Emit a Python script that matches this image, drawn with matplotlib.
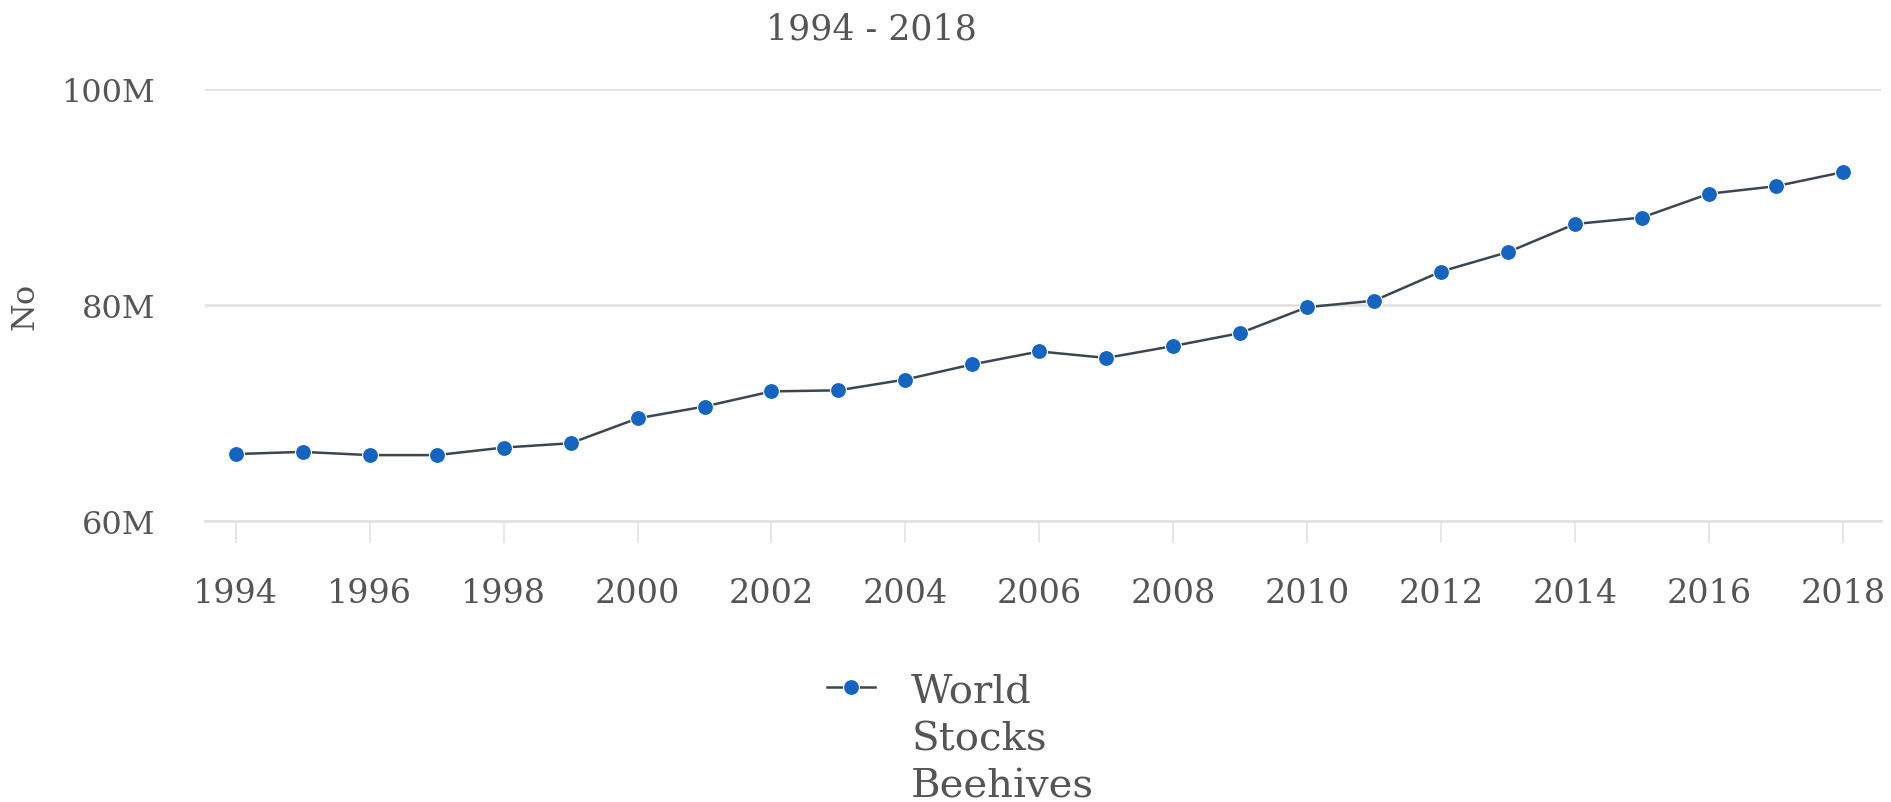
import matplotlib.pyplot as plt
from matplotlib.lines import Line2D
from matplotlib.ticker import FuncFormatter

plt.rcParams['font.family'] = ['DejaVu Serif']

years = list(range(1994, 2019))
beehives = [66.2, 66.4, 66.1, 66.1, 66.8, 67.2, 69.5, 70.6, 72.0, 72.1,
            73.1, 74.5, 75.7, 75.1, 76.2, 77.4, 79.8, 80.4, 83.1, 84.9,
            87.5, 88.1, 90.3, 91.0, 92.3]
beehives = [v * 1e6 for v in beehives]
label_lines = ["World", "Stocks", "Beehives"]
title = "1994 - 2018"

txt = "#555555"
grid = "#e2e2e2"
line_col = "#3c4650"
dot_col = "#1565c0"

fig = plt.figure(figsize=(18.91, 8.03), dpi=100)
ax = fig.add_axes([205 / 1891, 1 - 522 / 803, 1676 / 1891, 432 / 803])

ax.plot(years, beehives, color=line_col, linewidth=1.8,
        marker="o", markersize=11.5, markerfacecolor=dot_col,
        markeredgecolor="white", markeredgewidth=0.8, zorder=3)

ax.set_xlim(1993.54, 2018.57)
ax.set_ylim(60e6, 100e6)
ax.set_yticks([60e6, 80e6, 100e6])
ax.yaxis.set_major_formatter(FuncFormatter(lambda v, p: "%dM" % (v / 1e6)))
ax.set_xticks(years[::2])

ax.grid(axis="y", color=grid, linewidth=2)
ax.set_axisbelow(True)
for s in ["top", "right", "left"]:
    ax.spines[s].set_visible(False)
ax.spines["bottom"].set_color(grid)
ax.spines["bottom"].set_linewidth(2)

ax.tick_params(axis="y", length=0, pad=36, labelsize=23, labelcolor=txt)
ax.tick_params(axis="x", length=16, width=1.2, color=grid, pad=24,
               labelsize=24, labelcolor=txt)

ax.set_ylabel("No", fontsize=23, color=txt)
ax.yaxis.set_label_coords(-0.098, 0.5)

fig.text(871 / 1891, 1 - 30 / 803, title, ha="center", va="center",
         fontsize=25, color=txt)

handles = [Line2D([], [], color=line_col, linewidth=1.8, marker="o",
                  markersize=11.5, markerfacecolor=dot_col,
                  markeredgecolor="white", markeredgewidth=0.8),
           Line2D([], [], linestyle="none"),
           Line2D([], [], linestyle="none")]
leg = fig.legend(handles, label_lines, loc="upper left",
                 bbox_to_anchor=(0.4265, 1 - 653 / 803),
                 frameon=False, fontsize=29, labelcolor=txt,
                 handlelength=1.2, handletextpad=0.9, labelspacing=0.27,
                 borderpad=0)

fig.savefig("out.png", dpi=100, facecolor="white")
